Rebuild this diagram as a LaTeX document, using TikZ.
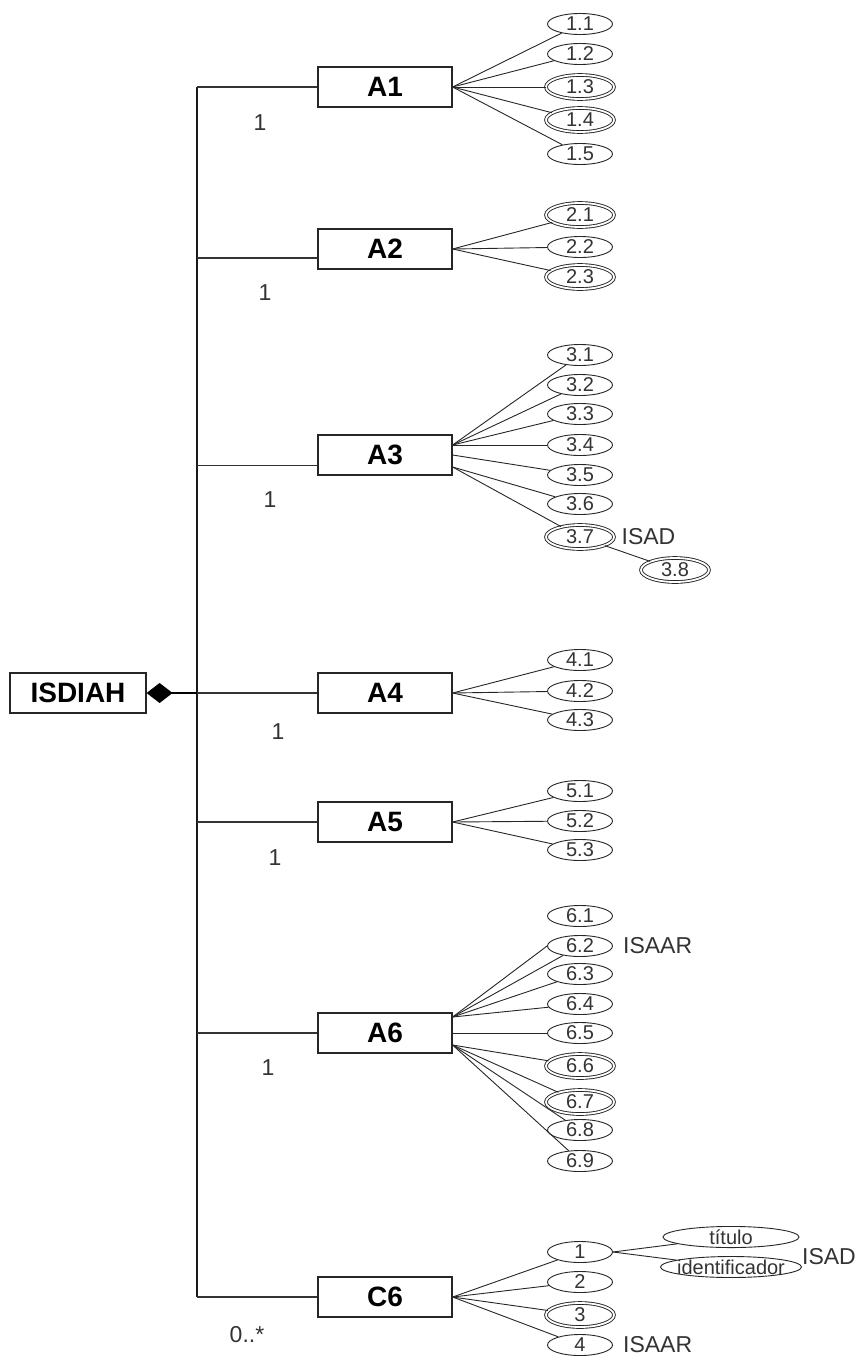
\documentclass[tikz,border=0pt]{standalone}
\usepackage{fontspec}
\setmainfont{Liberation Sans}
\usepackage{tikz}
\usetikzlibrary{arrows.meta,positioning,shapes.geometric}

\begin{document}
\begin{tikzpicture}[x=1pt, y=-1pt,
    ent/.style={rectangle, draw=black!85, line width=1.2pt, fill=white,
                minimum width=134pt, minimum height=40pt, inner sep=0pt,
                font=\fontsize{28}{30}\selectfont\bfseries},
    att/.style={ellipse, draw=black!85, line width=0.9pt, fill=white,
                minimum width=65pt, minimum height=21pt, inner sep=0pt,
                text=black!80, font=\fontsize{20}{21}\selectfont},
    key/.style={att, double, double distance=1.8pt,
                minimum width=68pt, minimum height=24pt},
    lnk/.style={draw=black!85, line width=0.9pt},
    conn/.style={draw=black!80, line width=1.1pt},
    trunk/.style={draw=black!90, line width=1.6pt},
    comp/.style={line width=2.6pt, -{Diamond[length=26pt, width=20pt]}},
    card/.style={text=black!80, font=\fontsize{23}{25}\selectfont},
    std/.style={text=black!80, font=\fontsize{23}{25}\selectfont, inner sep=0pt}
]
    \useasboundingbox (0,0) rectangle (858,1360);

    \node[ent, minimum width=136pt] (isdiah) at (78,693) {ISDIAH};
    \node[ent] (a1) at (385,87)   {A1};
    \node[ent] (a2) at (385,249)  {A2};
    \node[ent] (a3) at (385,455)  {A3};
    \node[ent] (a4) at (385,693)  {A4};
    \node[ent] (a5) at (385,822)  {A5};
    \node[ent] (a6) at (385,1033) {A6};
    \node[ent] (c6) at (385,1297) {C6};

    % trunk and composition
    \coordinate (hub) at (197,693);
    \coordinate (a2w) at ([yshift=-9pt]a2.west);
    \coordinate (a3w) at ([yshift=-10.5pt]a3.west);
    \draw[trunk] (hub |- a1.west) -- (hub |- c6.west);
    \foreach \n in {a1,a4,a5,a6,c6}
        \draw[conn] (hub |- \n.west) -- (\n.west);
    \draw[conn] (hub |- a2w) -- (a2w);
    \draw[conn] (hub |- a3w) -- (a3w);
    \draw[comp] (hub) -- (isdiah);

    \node[card] (m1) at (260,123)  {1};
    \node[card] (m2) at (265,293)  {1};
    \node[card] (m3) at (270,500)  {1};
    \node[card] (m4) at (278,732)  {1};
    \node[card] (m5) at (275,858)  {1};
    \node[card] (m6) at (268,1068) {1};
    \node[card] (m7) at (247,1335) {0..*};

    % A1, A2
    \foreach \i/\y/\s in {1/24/att, 2/54/att, 3/87/key, 4/120/key, 5/154/att}{
        \node[\s] (e1\i) at (580,\y) {1.\i};
        \draw[lnk] (a1.east) -- (e1\i);
    }
    \foreach \i/\y/\s in {1/215/key, 2/247/att, 3/277/key}{
        \node[\s] (e2\i) at (580,\y) {2.\i};
        \draw[lnk] (a2.east) -- (e2\i);
    }

    % A3
    \coordinate (a3u) at ([yshift=10pt]a3.east);
    \coordinate (a3m) at (a3.east);
    \coordinate (a3d) at ([yshift=-12pt]a3.east);
    \foreach \i/\y/\s/\f in {1/355/att/a3u, 2/385/att/a3u, 3/414/att/a3u, 4/445/att/a3u,
                             5/475/att/a3m, 6/504/att/a3d, 7/537/key/a3d}{
        \node[\s] (e3\i) at (580,\y) {3.\i};
        \draw[lnk] (\f) -- (e3\i);
    }
    \node[key] (e38) at (675,570) {3.8};
    \draw[lnk] (e37) -- (e38);
    \node[std, right=7pt of e37] (isad1) {ISAD};

    % A4, A5
    \foreach \i/\y in {1/660, 2/691, 3/720}{
        \node[att] (e4\i) at (580,\y) {4.\i};
        \draw[lnk] (a4.east) -- (e4\i);
    }
    \foreach \i/\y in {1/791, 2/821, 3/850}{
        \node[att] (e5\i) at (580,\y) {5.\i};
        \draw[lnk] (a5.east) -- (e5\i);
    }

    % A6
    \coordinate (a6u) at ([yshift=16pt]a6.east);
    \coordinate (a6m) at (a6.east);
    \coordinate (a6d) at ([yshift=-12pt]a6.east);
    \node[att] (e61) at (580,916) {6.1};
    \foreach \i/\y/\s/\f in {2/946/att/a6u, 3/974/att/a6u, 4/1004/att/a6u, 5/1033/att/a6m,
                             6/1066/key/a6d, 7/1102/key/a6d, 8/1130/att/a6d, 9/1161/att/a6d}{
        \node[\s] (e6\i) at (580,\y) {6.\i};
        \draw[lnk] (\f) -- (e6\i);
    }
    \draw[lnk] (a6u) -- (e62.west);
    \node[std, right=10pt of e62] (isaar1) {ISAAR};

    % C6
    \foreach \i/\y/\s in {1/1252/att, 2/1282/att, 3/1315/key, 4/1345/att}{
        \node[\s] (c\i) at (580,\y) {\i};
        \draw[lnk] (c6.east) -- (c\i);
    }
    \node[att, minimum width=136pt] (tit) at (731,1237) {\makebox[0pt]{título}};
    \node[att, minimum width=141pt] (idf) at (731,1267) {\makebox[0pt]{identificador}};
    \draw[lnk] (c1.east) -- (tit);
    \draw[lnk] (c1.east) -- (idf);
    \node[std] (isad2) at (829,1257) {ISAD};
    \node[std, right=10pt of c4] (isaar2) {ISAAR};
\end{tikzpicture}
\end{document}
